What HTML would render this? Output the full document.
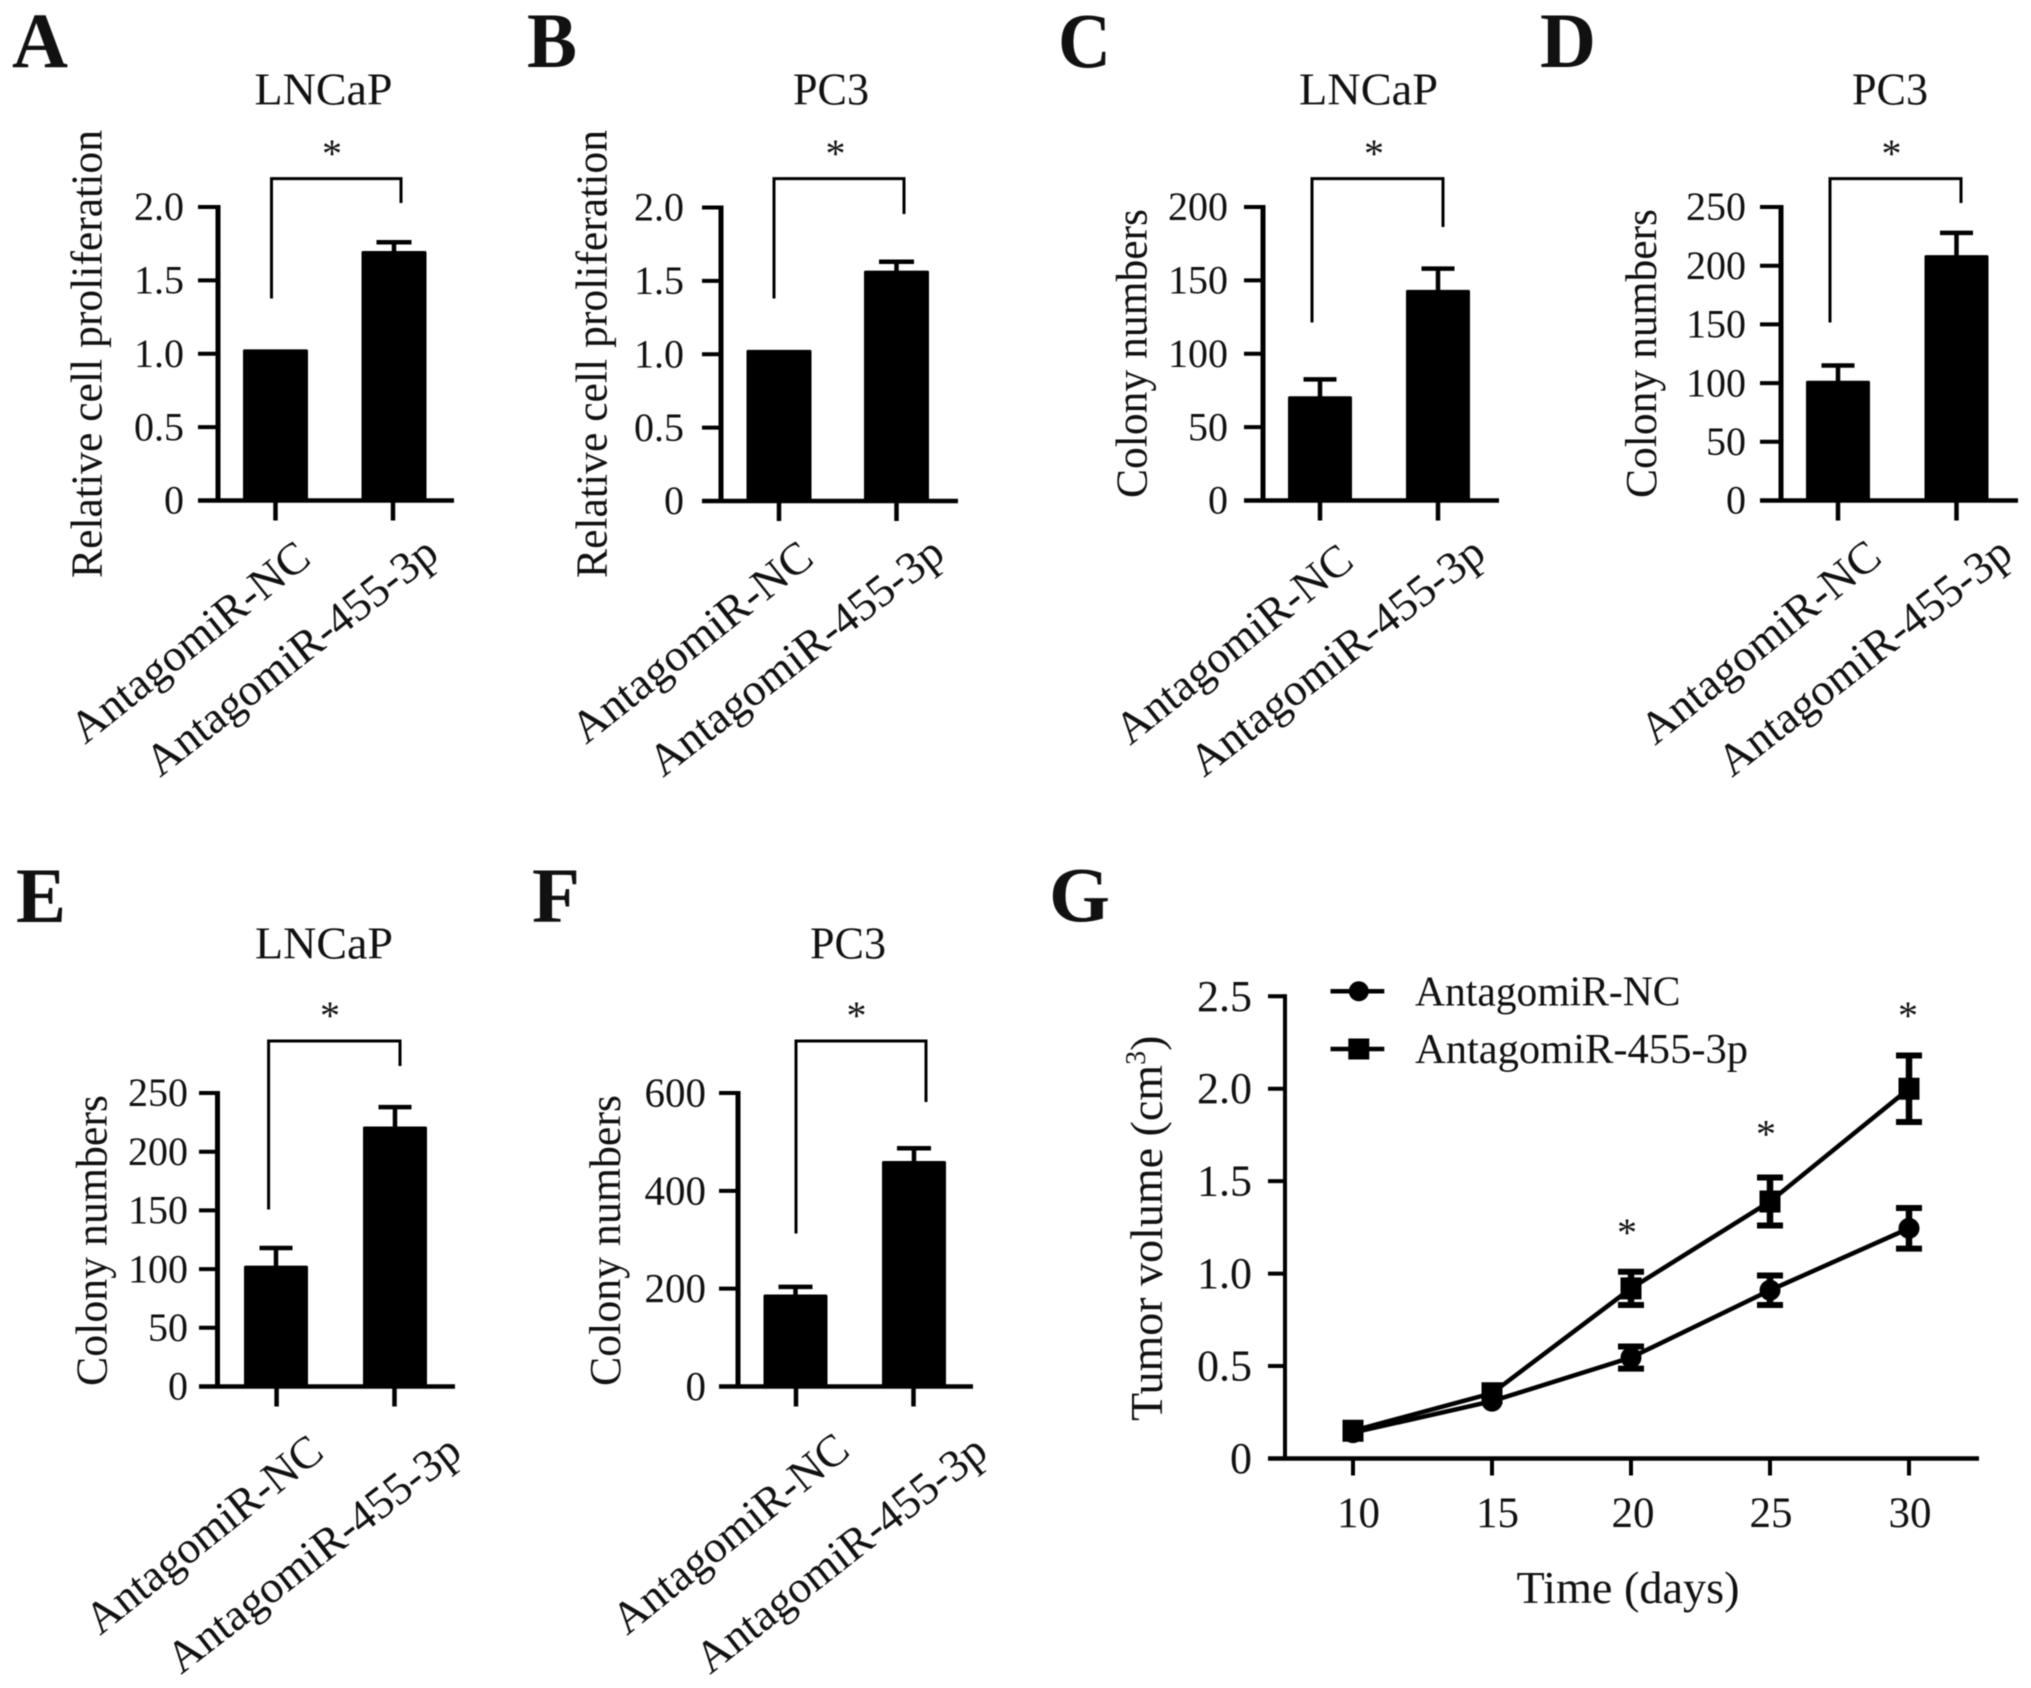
<!DOCTYPE html>
<html lang="en">
<head>
<meta charset="utf-8">
<title>AntagomiR-455-3p multi-panel figure</title>
<style>
html,body{margin:0;padding:0;background:#fff;}
svg{display:block;filter:blur(0.5px);}
text{font-family:"Liberation Serif",serif;fill:#111;}
</style>
</head>
<body>
<svg id="figure" xmlns="http://www.w3.org/2000/svg" width="2031" height="1688" viewBox="0 0 2031 1688"></svg>
<script>
const categories = ['AntagomiR-NC', 'AntagomiR-455-3p'];

const panelAValues = [1.03, 1.70];
const panelAErrors = [0, 0.06];
const panelATicks = ['0', '0.5', '1.0', '1.5', '2.0'];

const panelBValues = [1.03, 1.57];
const panelBErrors = [0, 0.06];
const panelBTicks = ['0', '0.5', '1.0', '1.5', '2.0'];

const panelCValues = [71, 143.5];
const panelCErrors = [11.5, 14.5];
const panelCTicks = ['0', '50', '100', '150', '200'];

const panelDValues = [102, 209];
const panelDErrors = [13, 19];
const panelDTicks = ['0', '50', '100', '150', '200', '250'];

const panelEValues = [103, 221.5];
const panelEErrors = [15, 16.5];
const panelETicks = ['0', '50', '100', '150', '200', '250'];

const panelFValues = [188, 461];
const panelFErrors = [15.6, 26];
const panelFTicks = ['0', '200', '400', '600'];

const days = ['10', '15', '20', '25', '30'];
const ncVolume = [0.14, 0.31, 0.546, 0.91, 1.245];
const ncError = [0.02, 0.03, 0.06, 0.08, 0.11];
const mirVolume = [0.15, 0.353, 0.92, 1.39, 2.0];
const mirError = [0.02, 0.03, 0.09, 0.13, 0.18];
const volumeTicks = ['0', '0.5', '1.0', '1.5', '2.0', '2.5'];
const starDays = ['20', '25', '30'];

const svg = document.getElementById('figure');
const NS = 'http://www.w3.org/2000/svg';

function mark(tag, attrs, name, parent) {
  const el = document.createElementNS(NS, tag);
  
  
  for (const k in attrs) el.setAttribute(k, attrs[k]);
  (parent || svg).appendChild(el);
  return el;
}
function line(x1, y1, x2, y2, w, name, parent) {
  return mark('line', {x1: x1, y1: y1, x2: x2, y2: y2, stroke: '#000', 'stroke-width': w}, name, parent);
}
function label(x, y, str, size, name, extra, parent) {
  const el = mark('text', Object.assign({x: x, y: y, 'font-size': size}, extra || {}), name, parent);
  el.textContent = str;
  return el;
}
function slanted(start, end, str, size, name, parent) {
  const dx = end[0] - start[0], dy = end[1] - start[1];
  const len = Math.sqrt(dx * dx + dy * dy);
  const deg = Math.atan2(dy, dx) * 180 / Math.PI;
  return label(start[0], start[1], str, size, name, {
    transform: 'rotate(' + deg + ' ' + start[0] + ' ' + start[1] + ')',
    textLength: len, lengthAdjust: 'spacingAndGlyphs'
  }, parent);
}
function star(x, cy, parent, name) {
  return label(x, cy + 19, '*', 40, name, {'text-anchor': 'middle'}, parent);
}
function letter(x, y, str, w) {
  return label(x, y, str, 78, 'panel-letter-' + str.toLowerCase(), {
    'font-weight': 'bold', textLength: w, lengthAdjust: 'spacingAndGlyphs', fill: '#000'
  });
}

function barPanel(p) {
  const g = mark('g', {}, 'panel-' + p.id);
  const max = Number(p.ticks[p.ticks.length - 1]);
  const y = function (v) { return p.base - v / max * (p.base - p.top); };

  label(p.titleX, p.titleY, p.title, 45, 'panel-title', {'text-anchor': 'middle', textLength: p.titleW, lengthAdjust: 'spacingAndGlyphs'}, g);
  label(p.yTitleX, p.yTitleBottom, p.yTitle, 44, 'y-axis-title', {
    transform: 'rotate(-90 ' + p.yTitleX + ' ' + p.yTitleBottom + ')',
    textLength: p.yTitleBottom - p.yTitleTop, lengthAdjust: 'spacingAndGlyphs'
  }, g);

  p.values.forEach(function (v, i) {
    const cx = p.barCenters[i];
    const hw = p.barWidth / 2;
    const barTop = y(v);
    mark('rect', {x: cx - hw, y: barTop, width: p.barWidth, height: p.base - barTop, fill: '#000', rx: 1.5}, 'bar-' + (i === 0 ? 'nc' : 'mir'), g);
    if (p.errors[i] > 0) {
      const eTop = y(v + p.errors[i]);
      line(cx, barTop + 2, cx, eTop, 4.5, 'error-stem', g);
      line(cx - p.capWidth / 2, eTop, cx + p.capWidth / 2, eTop, 4.5, 'error-cap', g);
    }
  });

  line(p.axisX, p.top - 2, p.axisX, p.base + 2, 5, 'y-axis-line', g);
  line(p.tickLeft, p.base, p.xEnd, p.base, 4.5, 'x-axis-line', g);
  p.ticks.forEach(function (t) {
    const ty = y(Number(t));
    line(p.tickLeft, ty, p.axisX, ty, 4, 'y-tick', g);
    label(p.tickRight, ty + p.tickSize * 0.33, t, p.tickSize, 'y-tick-label', {'text-anchor': 'end'}, g);
  });
  p.xTicks.forEach(function (tx, i) {
    line(tx, p.base, tx, p.base + 20, 4.5, 'x-tick', g);
    slanted(p.catStart[i], p.catEnd[i], categories[i], 45, 'x-tick-label', g);
  });

  const b = p.bracket;
  mark('polyline', {
    points: b.left + ',' + b.leftBottom + ' ' + b.left + ',' + b.top + ' ' + b.right + ',' + b.top + ' ' + b.right + ',' + b.rightBottom,
    fill: 'none', stroke: '#000', 'stroke-width': 3
  }, 'significance-bracket', g);
  star(b.starX, b.starY, g, 'significance-star');
}

barPanel({
  id: 'a', title: 'LNCaP', titleX: 323.5, titleY: 104.5, titleW: 138,
  yTitle: 'Relative cell proliferation', yTitleX: 101.5, yTitleTop: 130, yTitleBottom: 578,
  values: panelAValues, errors: panelAErrors, ticks: panelATicks,
  top: 207, base: 500.5, axisX: 218, tickLeft: 198, xEnd: 454, tickRight: 184, tickSize: 40,
  barCenters: [275.5, 394], barWidth: 65, capWidth: 35,
  xTicks: [275.5, 393], catStart: [[85, 745], [160, 778]], catEnd: [[313, 562], [441, 558]],
  bracket: {left: 271.5, right: 401, top: 178.6, leftBottom: 298.5, rightBottom: 203, starX: 332, starY: 148}
});
barPanel({
  id: 'b', title: 'PC3', titleX: 831, titleY: 104.5, titleW: 76,
  yTitle: 'Relative cell proliferation', yTitleX: 606.6, yTitleTop: 130, yTitleBottom: 578,
  values: panelBValues, errors: panelBErrors, ticks: panelBTicks,
  top: 207.5, base: 501, axisX: 721, tickLeft: 702, xEnd: 958, tickRight: 684, tickSize: 40,
  barCenters: [779, 896.5], barWidth: 65, capWidth: 35,
  xTicks: [779, 896.5], catStart: [[586, 745], [663, 778]], catEnd: [[816, 562], [947, 558]],
  bracket: {left: 774, right: 904, top: 178.6, leftBottom: 298.5, rightBottom: 214, starX: 835.5, starY: 148}
});
barPanel({
  id: 'c', title: 'LNCaP', titleX: 1368.5, titleY: 104.5, titleW: 139,
  yTitle: 'Colony numbers', yTitleX: 1146.5, yTitleTop: 209, yTitleBottom: 498,
  values: panelCValues, errors: panelCErrors, ticks: panelCTicks,
  top: 207, base: 500.5, axisX: 1263, tickLeft: 1244, xEnd: 1499, tickRight: 1228, tickSize: 40,
  barCenters: [1320, 1438], barWidth: 64, capWidth: 33,
  xTicks: [1320, 1438], catStart: [[1130, 746], [1204, 778]], catEnd: [[1356, 565], [1488, 558]],
  bracket: {left: 1312, right: 1443, top: 178.6, leftBottom: 322.5, rightBottom: 227, starX: 1374, starY: 148}
});
barPanel({
  id: 'd', title: 'PC3', titleX: 1890, titleY: 104.5, titleW: 76,
  yTitle: 'Colony numbers', yTitleX: 1656, yTitleTop: 209, yTitleBottom: 498,
  values: panelDValues, errors: panelDErrors, ticks: panelDTicks,
  top: 207, base: 500.5, axisX: 1781, tickLeft: 1760, xEnd: 2018, tickRight: 1746, tickSize: 40,
  barCenters: [1838, 1956.5], barWidth: 64, capWidth: 33,
  xTicks: [1838, 1956.5], catStart: [[1655, 746], [1732, 778]], catEnd: [[1884, 561], [2015, 558]],
  bracket: {left: 1830, right: 1961, top: 178.6, leftBottom: 322.5, rightBottom: 203, starX: 1891.5, starY: 148}
});
barPanel({
  id: 'e', title: 'LNCaP', titleX: 324, titleY: 958.5, titleW: 138,
  yTitle: 'Colony numbers', yTitleX: 106.5, yTitleTop: 1095, yTitleBottom: 1386,
  values: panelEValues, errors: panelEErrors, ticks: panelETicks,
  top: 1093, base: 1386.5, axisX: 217.5, tickLeft: 199, xEnd: 455, tickRight: 188, tickSize: 40,
  barCenters: [276, 395], barWidth: 64, capWidth: 33,
  xTicks: [276.6, 394.5], catStart: [[100, 1636], [181, 1675]], catEnd: [[326, 1456], [464, 1456]],
  bracket: {left: 268.6, right: 400, top: 1041, leftBottom: 1209.5, rightBottom: 1066, starX: 330, starY: 1010}
});
barPanel({
  id: 'f', title: 'PC3', titleX: 848, titleY: 958.5, titleW: 76,
  yTitle: 'Colony numbers', yTitleX: 620, yTitleTop: 1095, yTitleBottom: 1386,
  values: panelFValues, errors: panelFErrors, ticks: panelFTicks,
  top: 1093, base: 1386.5, axisX: 738, tickLeft: 719, xEnd: 973, tickRight: 706, tickSize: 41,
  barCenters: [795.5, 914], barWidth: 64, capWidth: 34,
  xTicks: [796, 913.5], catStart: [[627, 1636], [710, 1675]], catEnd: [[852, 1454], [990, 1456]],
  bracket: {left: 796, right: 926, top: 1041, leftBottom: 1233.5, rightBottom: 1102, starX: 856.5, starY: 1010}
});

/* Panel G: tumor volume line chart */
(function () {
  const g = mark('g', {}, 'panel-g');
  const top = 996.3, base = 1458.5, left = 1353, right = 1909;
  const vMax = Number(volumeTicks[volumeTicks.length - 1]);
  const dMin = Number(days[0]), dMax = Number(days[days.length - 1]);
  const gy = function (v) { return base - v / vMax * (base - top); };
  const gx = function (d) { return left + (Number(d) - dMin) / (dMax - dMin) * (right - left); };

  function series(vals, errs, isSquare, name) {
    const pts = days.map(function (d, i) { return gx(d) + ',' + gy(vals[i]); }).join(' ');
    mark('polyline', {points: pts, fill: 'none', stroke: '#000', 'stroke-width': 4.5}, name + '-line', g);
    days.forEach(function (d, i) {
      const cx = gx(d), cy = gy(vals[i]), e = errs[i];
      if (e >= 0.05) {
        line(cx, gy(vals[i] + e), cx, gy(vals[i] - e), 6.5, name + '-error-stem', g);
        line(cx - 13, gy(vals[i] + e), cx + 13, gy(vals[i] + e), 6, name + '-error-cap', g);
        line(cx - 13, gy(vals[i] - e), cx + 13, gy(vals[i] - e), 6, name + '-error-cap', g);
      }
      if (isSquare) {
        mark('rect', {x: cx - 10.5, y: cy - 11, width: 21, height: 22, fill: '#000'}, name + '-point', g);
      } else {
        mark('circle', {cx: cx, cy: cy, r: 10.5, fill: '#000'}, name + '-point', g);
      }
    });
  }
  series(ncVolume, ncError, false, 'antagomir-nc');
  series(mirVolume, mirError, true, 'antagomir-455-3p');

  line(1285, top - 2, 1285, base + 2, 4, 'y-axis-line', g);
  line(1268, base, 1979, base, 4.5, 'x-axis-line', g);
  volumeTicks.forEach(function (t) {
    const ty = gy(Number(t));
    line(1268, ty, 1285, ty, 4, 'y-tick', g);
    label(1252, ty + 14.5, t, 44, 'y-tick-label', {'text-anchor': 'end'}, g);
  });
  days.forEach(function (d) {
    const tx = gx(d);
    line(tx, base, tx, base + 17, 4, 'x-tick', g);
    label(tx + (d === '30' ? 1 : d === '25' ? 1 : d === '20' ? 2 : 5.5), 1527, d, 43, 'x-tick-label', {'text-anchor': 'middle'}, g);
  });
  label(1516.5, 1603, 'Time (days)', 46, 'x-axis-title', {textLength: 223, lengthAdjust: 'spacingAndGlyphs'}, g);

  const yt = label(1162, 1421, '', 46, 'y-axis-title', {transform: 'rotate(-90 1162 1421)'}, g);
  yt.appendChild(document.createTextNode('Tumor volume (cm'));
  const sup = mark('tspan', {dy: -17, 'font-size': 28}, 'y-axis-title-superscript', yt);
  sup.textContent = '3';
  const close = mark('tspan', {dy: 17}, 'y-axis-title-paren', yt);
  close.textContent = ')';

  const starY = [1226.8, 1128.6, 1010.2];
  starDays.forEach(function (d, i) {
    star(gx(d) - (i === 2 ? 1 : 4), starY[i], g, 'significance-star');
  });

  const leg1 = mark('g', {}, 'legend-entry-nc', g);
  line(1330.5, 991.3, 1384.3, 991.3, 4.5, 'legend-line', leg1);
  mark('circle', {cx: 1358.8, cy: 991.3, r: 10, fill: '#000'}, 'legend-marker', leg1);
  label(1415, 1005.3, categories[0], 42, 'legend-label', {textLength: 265.5, lengthAdjust: 'spacingAndGlyphs'}, leg1);
  const leg2 = mark('g', {}, 'legend-entry-mir', g);
  line(1330.5, 1049, 1384.3, 1049, 4.5, 'legend-line', leg2);
  mark('rect', {x: 1348.3, y: 1038.5, width: 21, height: 21, fill: '#000'}, 'legend-marker', leg2);
  label(1415, 1063, categories[1], 42, 'legend-label', {textLength: 333, lengthAdjust: 'spacingAndGlyphs'}, leg2);
})();

letter(12, 67, 'A', 56);
letter(527, 67, 'B', 50);
letter(1058, 67, 'C', 53);
letter(1540, 67, 'D', 56);
letter(16, 922, 'E', 50);
letter(532, 922, 'F', 48);
letter(1049, 921, 'G', 61);
</script>
</body>
</html>
